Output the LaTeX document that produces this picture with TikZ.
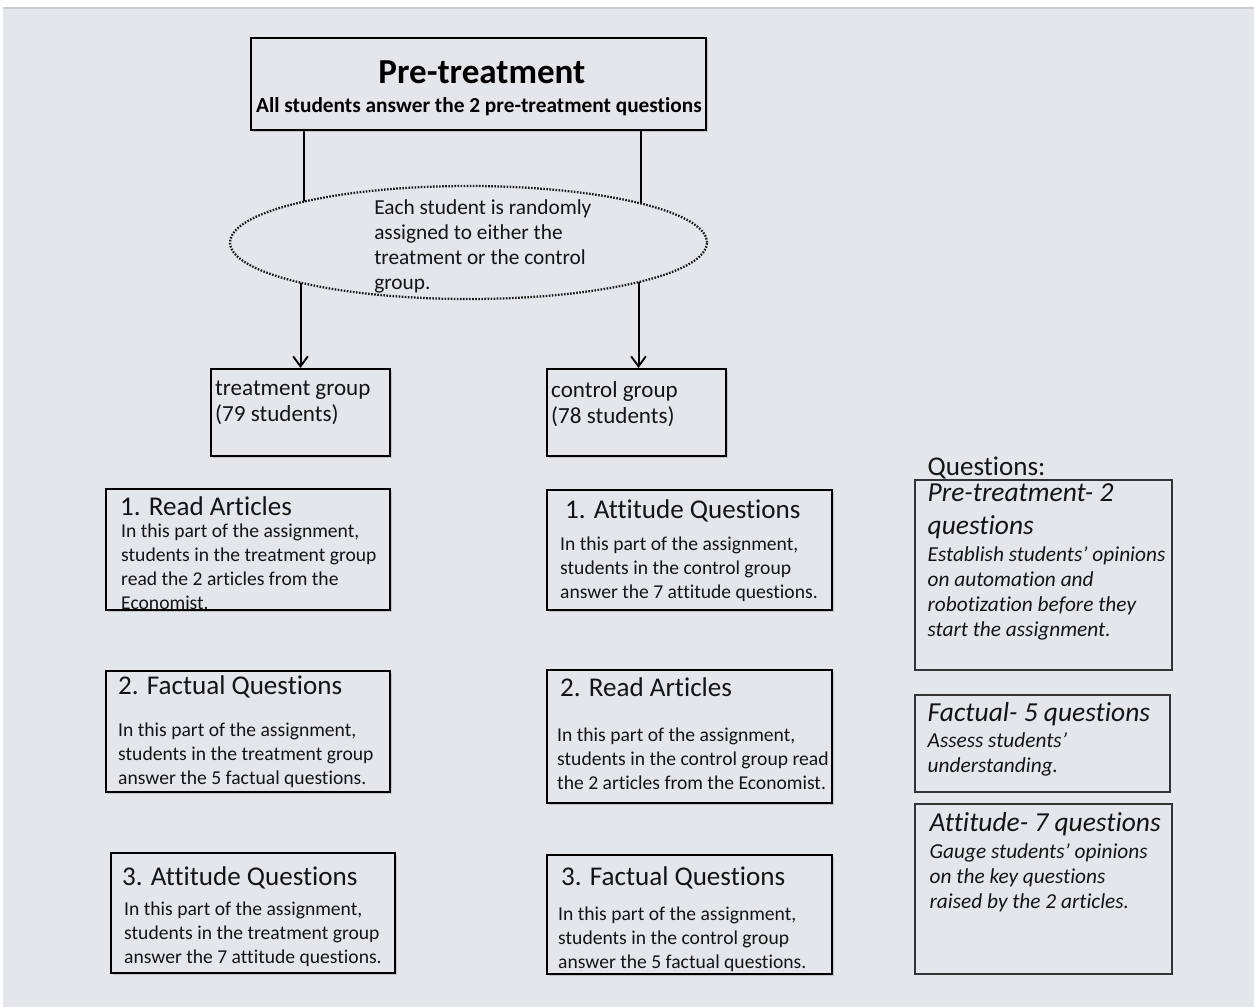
\documentclass[tikz,border=0pt]{standalone}
\usepackage{fontspec}
\setmainfont{Carlito}[Ligatures=CommonOff]
\usetikzlibrary{shapes.geometric,arrows.meta,fit,shadows,backgrounds}
\definecolor{sheet}{HTML}{E3E7EB}
\definecolor{ink}{HTML}{141414}
\tikzset{
  flow-box/.style   = {rectangle, draw=black, line width=1.6pt, fill=sheet, inner sep=0pt,
                       drop shadow={shadow xshift=1.2pt, shadow yshift=-1.8pt, opacity=0.22, fill=black!70}},
  side-box/.style   = {rectangle, draw=black!80, line width=0.9pt, inner sep=0pt},
  oval-node/.style  = {ellipse, draw=black!90, fill=sheet, line width=1.7pt, dash pattern=on 1.2pt off 1.1pt,
                       minimum width=357.75pt, minimum height=84.75pt, inner sep=0pt},
  head-text/.style  = {anchor=base, inner sep=0pt, text=black, font=\bfseries},
  box-title/.style  = {anchor=base west, inner sep=0pt, text=ink, font=\fontsize{20.3}{24}\selectfont},
  box-body/.style   = {anchor=base west, inner sep=0pt, text=ink, align=left, font=\fontsize{14.7}{18}\selectfont},
  group-text/.style = {anchor=base west, inner sep=0pt, text=ink, align=left, font=\fontsize{17.3}{19.5}\selectfont},
  oval-text/.style  = {anchor=base west, inner sep=0pt, text=ink, align=left, font=\fontsize{16}{18.75}\selectfont},
  side-title/.style = {anchor=base west, inner sep=0pt, text=ink, align=left, font=\fontsize{20.6}{24.75}\selectfont\itshape},
  side-body/.style  = {anchor=base west, inner sep=0pt, text=ink, align=left, font=\fontsize{16}{18.75}\selectfont\itshape},
}

\begin{document}
\begin{tikzpicture}
  [
    x                = 0.75pt,
    y                = -0.75pt,
    link/.style      = {draw=black, line width=1.5pt},
    arrow/.style     = {link, -{Straight Barb[length=7.5pt,width=11pt,line width=1.4pt]}}
  ]
  \useasboundingbox (0,0) rectangle (1254,1007);
  \begin{pgfonlayer}{background}
    \fill[white] (0,0) rectangle (1254,1007);
    \fill[sheet] (3,9) rectangle (1254,1007);
    \draw[black!20, line width=1.2pt] (3,8) -- (1254,8);
  \end{pgfonlayer}

  \node [flow-box, fit={(251,38) (706,130)}] (pre) {};
  \node [head-text, font=\fontsize{26.3}{30}\selectfont\bfseries] (pre-title) at ([shift={(232,47)}]pre.north west) {Pre-treatment};
  \node [head-text, font=\fontsize{16}{18}\selectfont\bfseries] (pre-sub) at ([shift={(229,76)}]pre.north west)
    {All students answer the 2 pre-treatment questions};

  \node [oval-node] (assign) at (468.5,242.5) {};
  \node [oval-text] (assign-text) at ([shift={(-94.5,46.5)}]assign.center)
    {Each student is randomly\\assigned to either the\\treatment or the control\\group.};

  \node [flow-box, fit={(211,369) (390,456)}] (tg) {};
  \node [group-text] (tg-text) at ([shift={(5,54)}]tg.north west) {treatment group\\(79 students)};
  \node [flow-box, fit={(547,369) (726,456)}] (cg) {};
  \node [group-text] (cg-text) at ([shift={(5,56)}]cg.north west) {control group\\(78 students)};

  \begin{pgfonlayer}{background}
    \draw [link] ([xshift=2.5]pre.south -| tg.north) -- ([xshift=2.5]assign.center -| tg.north);
    \draw [link] ([xshift=3.5]pre.south -| cg.north) -- ([xshift=3.5]assign.center -| cg.north);
    \draw [arrow] (assign.center -| tg.north) -- (tg.north);
    \draw [arrow] ([xshift=1.5]assign.center -| cg.north) -- ([xshift=1.5]cg.north);
  \end{pgfonlayer}

  % treatment column
  \node [flow-box, fit={(106,489) (390,610)}] (t1) {};
  \node [box-title] (t1-title) at ([shift={(15,28)}]t1.north west) {1. Read Articles};
  \node [box-body] (t1-body) at ([shift={(16,122)}]t1.north west)
    {In this part of the assignment,\\students in the treatment group\\read the 2 articles from the\\Economist.};
  \node [flow-box, fit={(106,671) (390,792)}] (t2) {};
  \node [box-title] (t2-title) at ([shift={(13,25)}]t2.north west) {2. Factual Questions};
  \node [box-body] (t2-body) at ([shift={(13,115)}]t2.north west)
    {In this part of the assignment,\\students in the treatment group\\answer the 5 factual questions.};
  \node [flow-box, fit={(111,853) (395,973)}] (t3) {};
  \node [box-title] (t3-title) at ([shift={(12,34)}]t3.north west) {3. Attitude Questions};
  \node [box-body] (t3-body) at ([shift={(14,112)}]t3.north west)
    {In this part of the assignment,\\students in the treatment group\\answer the 7 attitude questions.};

  % control column
  \node [flow-box, fit={(547,490) (832,610)}] (c1) {};
  \node [box-title] (c1-title) at ([shift={(19,30)}]c1.north west) {1. Attitude Questions};
  \node [box-body] (c1-body) at ([shift={(14,110)}]c1.north west)
    {In this part of the assignment,\\students in the control group\\answer the 7 attitude questions.};
  \node [flow-box, fit={(547,670) (832,803)}] (c2) {};
  \node [box-title] (c2-title) at ([shift={(14,28)}]c2.north west) {2. Read Articles};
  \node [box-body] (c2-body) at ([shift={(11,121)}]c2.north west)
    {In this part of the assignment,\\students in the control group read\\the 2 articles from the Economist.};
  \node [flow-box, fit={(547,855) (832,974)}] (c3) {};
  \node [box-title] (c3-title) at ([shift={(15,32)}]c3.north west) {3. Factual Questions};
  \node [box-body] (c3-body) at ([shift={(12,115)}]c3.north west)
    {In this part of the assignment,\\students in the control group\\answer the 5 factual questions.};

  % question types
  \node [side-box, fit={(915,480) (1172,670)}] (r1) {};
  \node [box-title] (q-label) at ([shift={(13,-4)}]r1.north west) {Questions:};
  \node [side-title] (r1-title) at ([shift={(13,55)}]r1.north west) {Pre-treatment- 2\\questions};
  \node [side-body] (r1-body) at ([shift={(13,157)}]r1.north west)
    {Establish students’ opinions\\on automation and\\robotization before they\\start the assignment.};
  \node [side-box, fit={(915,695) (1170,792)}] (r2) {};
  \node [side-title] (r2-title) at ([shift={(13,27)}]r2.north west) {Factual- 5 questions};
  \node [side-body] (r2-body) at ([shift={(13,78)}]r2.north west) {Assess students’\\understanding.};
  \node [side-box, fit={(915,804) (1172,974)}] (r3) {};
  \node [side-title] (r3-title) at ([shift={(15,28)}]r3.north west) {Attitude- 7 questions};
  \node [side-body] (r3-body) at ([shift={(15,105)}]r3.north west)
    {Gauge students’ opinions\\on the key questions\\raised by the 2 articles.};
\end{tikzpicture}
\end{document}
